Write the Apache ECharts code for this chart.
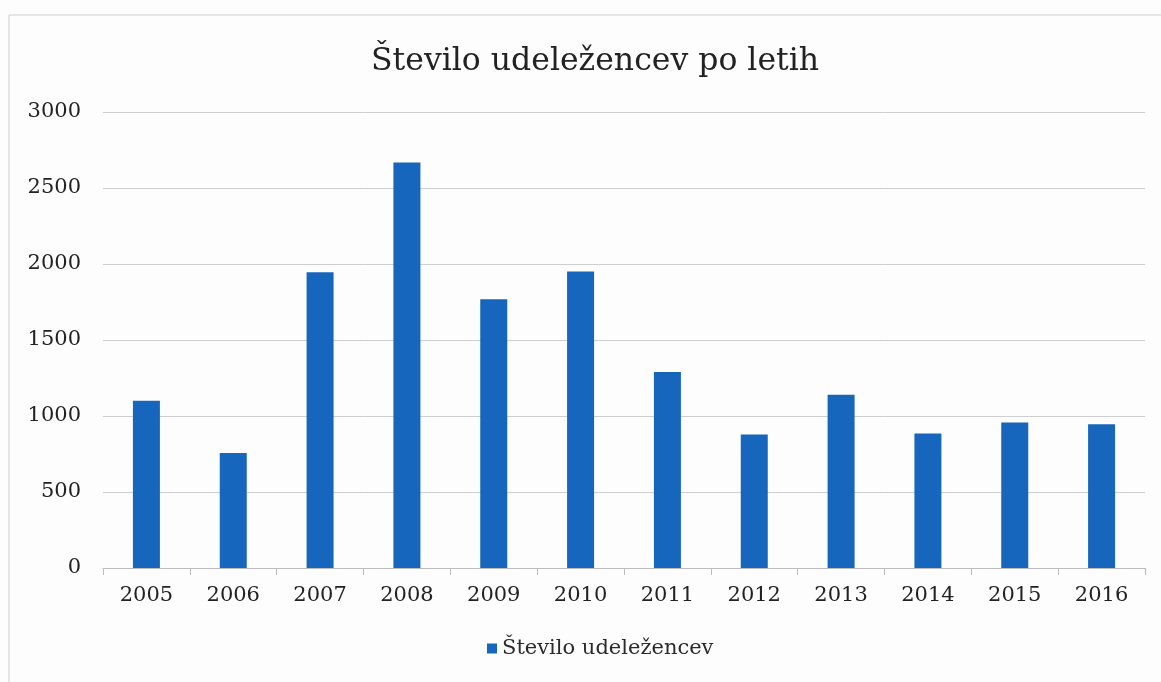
<!DOCTYPE html>
<html>
<head>
<meta charset="utf-8">
<script src="https://cdn.jsdelivr.net/npm/echarts@6/dist/echarts.min.js"></script>
<style>
html,body{margin:0;padding:0;background:#fdfdfd;}
#c{width:1161px;height:682px;}
</style>
</head>
<body>
<div id="c"></div>
<script>
const titleText = 'Število udeležencev po letih';
const seriesName = 'Število udeležencev';
const years = ['2005','2006','2007','2008','2009','2010','2011','2012','2013','2014','2015','2016'];
const participants = [1100, 757, 1945, 2667, 1768, 1950, 1290, 878, 1140, 885, 958, 945];

const fontFam = '"DejaVu Serif", "Liberation Serif", serif';
const chart = echarts.init(document.getElementById('c'));
chart.setOption({
  backgroundColor: '#fdfdfd',
  animation: false,
  graphic: [{
    type: 'rect',
    shape: {x: 9, y: 15, width: 1170, height: 700},
    style: {fill: 'none', stroke: '#cfcfcf', lineWidth: 1},
    silent: true
  }],
  title: {
    text: titleText,
    left: 366,
    top: 41,
    textStyle: {fontFamily: fontFam, fontSize: 31.5, fontWeight: 'normal', color: '#222'}
  },
  legend: {
    bottom: 18,
    left: 482,
    itemWidth: 10,
    itemHeight: 10,
    icon: 'rect',
    itemGap: 3,
    textStyle: {fontFamily: fontFam, fontSize: 21, color: '#2a2a2a'},
    data: [seriesName]
  },
  grid: {left: 103, right: 16, top: 112, bottom: 114, containLabel: false},
  xAxis: {
    type: 'category',
    data: years,
    axisLine: {lineStyle: {color: '#bdbdbd'}},
    axisTick: {show: true, length: 7, lineStyle: {color: '#bdbdbd'}},
    axisLabel: {fontFamily: fontFam, fontSize: 21, color: '#222', margin: 17}
  },
  yAxis: {
    type: 'value',
    min: 0,
    max: 3000,
    interval: 500,
    axisLine: {show: false},
    axisTick: {show: false},
    splitLine: {lineStyle: {color: '#cfcfcf'}},
    axisLabel: {fontFamily: fontFam, fontSize: 21, color: '#222', margin: 22, formatter: function (v) { return String(v); }}
  },
  series: [{
    name: seriesName,
    type: 'bar',
    data: participants,
    barWidth: 27,
    itemStyle: {color: '#1766bd'}
  }]
});
</script>
</body>
</html>
